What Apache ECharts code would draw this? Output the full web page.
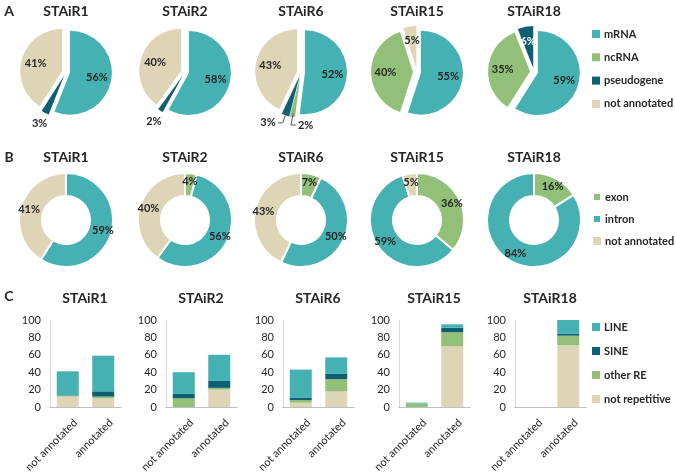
<!DOCTYPE html>
<html>
<head>
<meta charset="utf-8">
<script src="https://cdn.jsdelivr.net/npm/echarts@6/dist/echarts.min.js"></script>
<style>
html,body{margin:0;padding:0;background:#fff;}
#chart{width:675px;height:475px;}
</style>
</head>
<body>
<div id="chart"></div>
<script>
// ---------- DATA ----------
const samples = ['STAiR1', 'STAiR2', 'STAiR6', 'STAiR15', 'STAiR18'];

// Panel A: transcript type (%)
const typeNames = ['mRNA', 'ncRNA', 'pseudogene', 'not annotated'];
const mRNA = [56, 58, 52, 55, 59];
const ncRNA = [0, 0, 2, 40, 35];
const pseudogene = [3, 2, 3, 0, 6];
const notAnnotatedA = [41, 40, 43, 5, 0];

// Panel B: genomic region (%)
const regionNames = ['exon', 'intron', 'not annotated'];
const exon = [0, 4, 7, 36, 16];
const intron = [59, 56, 50, 59, 84];
const notAnnotatedB = [41, 40, 43, 5, 0];

// Panel C: repeat content, per sample [not annotated, annotated]
const barCategories = ['not annotated', 'annotated'];
const repeatNames = ['LINE', 'SINE', 'other RE', 'not repetitive'];
const yTicks = [0, 20, 40, 60, 80, 100];
const notRepetitive = [[12, 10], [0, 20], [5, 18], [0, 70], [0, 71]];
const otherRE = [[1, 2], [10, 2], [3, 14], [4, 16], [0, 11]];
const SINE = [[0.5, 6], [5, 8], [3, 6], [0, 5], [0, 2]];
const LINE = [[27.5, 41], [25, 30], [32, 19], [1, 4], [0, 16]];

// ---------- STYLE / LAYOUT ----------
const FONT = 'Lato, "Open Sans", sans-serif';
const TXT = '#262626';
const C_TEAL = '#46B1B2', C_GREEN = '#92C078', C_DARK = '#0F5F73', C_BEIGE = '#DED4B6';
const colA = [C_TEAL, C_GREEN, C_DARK, C_BEIGE];
const colB = [C_GREEN, C_TEAL, C_BEIGE];
const colC = { 'LINE': C_TEAL, 'SINE': C_DARK, 'other RE': C_GREEN, 'not repetitive': C_BEIGE };
const cx = [66, 185, 301, 417, 534];
const rowAy = 72, rowBy = 220;
const showLeader = [false, false, true, false, false];
const mirrorRightName = 'ncRNA';
const gridLeft = [50, 166, 283, 399, 515];

const aVals = [mRNA, ncRNA, pseudogene, notAnnotatedA];
const bVals = [exon, intron, notAnnotatedB];
const cVals = { 'LINE': LINE, 'SINE': SINE, 'other RE': otherRE, 'not repetitive': notRepetitive };

const series = [];
const graphic = [];
const grids = [], xAxes = [], yAxes = [];

function addText(text, x, y, size) {
  graphic.push({
    type: 'text', x: x, y: y, silent: true,
    style: { text: text, fill: TXT, font: 'bold ' + size + 'px ' + FONT, align: 'center', verticalAlign: 'middle' }
  });
}
addText('A', 9, 11, 14);
addText('B', 9, 157, 14);
addText('C', 9, 296, 14);

function makeLabelLayout(leader, names) {
  return function (params) {
    const pts = params.labelLinePoints;
    if (!pts || pts.length < 3) return {};
    const p0 = pts[0], p1 = pts[1];
    const nm = names[params.dataIndex];
    if (!leader) {
      return { x: p1[0], y: p1[1], align: 'center', verticalAlign: 'middle' };
    }
    if (nm === mirrorRightName) {
      const p2 = [p1[0] + 5, p1[1]];
      return { x: p2[0] + 2, y: p2[1], align: 'left', verticalAlign: 'middle', labelLinePoints: [p0, p1, p2] };
    }
    const p2 = [p1[0] - 5, p1[1]];
    return { x: p2[0] - 2, y: p2[1], align: 'right', verticalAlign: 'middle', labelLinePoints: [p0, p1, p2] };
  };
}

samples.forEach((s, i) => {
  addText(s, cx[i], 11, 14);
  addText(s, cx[i], 157, 14);
  addText(s, gridLeft[i] + 35, 298, 14);

  // ---- Panel A pie (exploded) ----
  const dataA = [], labA = [], namesA = [];
  typeNames.forEach((n, k) => {
    const v = aVals[k][i];
    if (v <= 0) return;
    dataA.push({ name: n, value: v, selected: true, itemStyle: { color: colA[k] }, select: { itemStyle: { color: colA[k] } } });
    const small = v < 5;
    namesA.push(n);
    labA.push({
      name: n, value: v,
      label: {
        show: true,
        position: small ? 'outside' : 'inside',
        color: (!small && n === 'pseudogene') ? '#ffffff' : TXT
      },
      labelLine: { show: small && showLeader[i] }
    });
  });
  series.push({
    type: 'pie', center: [cx[i], rowAy], radius: [0, 42], startAngle: 90, clockwise: true,
    selectedMode: 'multiple', selectedOffset: 4, animation: false,
    label: { show: false }, labelLine: { show: false },
    emphasis: { disabled: true },
    itemStyle: { borderWidth: 0 },
    data: dataA
  });
  series.push({
    type: 'pie', center: [cx[i], rowAy], radius: [15, 42], startAngle: 90, clockwise: true,
    silent: true, animation: false, avoidLabelOverlap: false, z: 5,
    itemStyle: { color: 'rgba(0,0,0,0)', borderWidth: 0 },
    emphasis: { disabled: true },
    label: { formatter: '{c}%', fontFamily: FONT, fontSize: 11, fontWeight: 'bold', distanceToLabelLine: 2 },
    labelLine: { length: showLeader[i] ? 12 : 16, length2: showLeader[i] ? 5 : 0, lineStyle: { color: '#595959', width: 1 } },
    labelLayout: makeLabelLayout(showLeader[i], namesA),
    data: labA
  });

  // ---- Panel B donut ----
  const dataB = [];
  regionNames.forEach((n, k) => {
    const v = bVals[k][i];
    if (v <= 0) return;
    dataB.push({ name: n, value: v, itemStyle: { color: colB[k] } });
  });
  series.push({
    type: 'pie', center: [cx[i], rowBy], radius: [24, 47], startAngle: 90, clockwise: true,
    animation: false, emphasis: { disabled: true },
    itemStyle: { borderColor: '#ffffff', borderWidth: 2 },
    label: { show: true, position: 'inside', formatter: '{c}%', fontFamily: FONT, fontSize: 11, fontWeight: 'bold', color: TXT },
    labelLine: { show: false },
    data: dataB
  });

  // ---- Panel C stacked bars ----
  grids.push({ left: gridLeft[i], top: 320, width: 71, height: 87, outerBoundsMode: 'none', containLabel: false });
  xAxes.push({
    type: 'category', gridIndex: i, data: barCategories,
    axisLine: { show: true, lineStyle: { color: '#BFBFBF', width: 1 } },
    axisTick: { show: false },
    axisLabel: { interval: 0, rotate: 45, margin: 6, verticalAlign: 'top', lineHeight: 22, fontFamily: FONT, fontSize: 11, color: TXT },
    splitLine: { show: false }
  });
  yAxes.push({
    type: 'value', gridIndex: i, min: yTicks[0], max: yTicks[yTicks.length - 1], interval: yTicks[1] - yTicks[0],
    axisLine: { show: true, lineStyle: { color: '#D9D9D9', width: 1 } },
    axisTick: { show: false },
    axisLabel: { margin: 9, fontFamily: FONT, fontSize: 11, color: TXT },
    splitLine: { show: false }
  });
  ['not repetitive', 'other RE', 'SINE', 'LINE'].forEach(n => {
    series.push({
      type: 'bar', name: n, xAxisIndex: i, yAxisIndex: i, stack: 'st' + i,
      barWidth: 22, animation: false, emphasis: { disabled: true },
      itemStyle: { color: colC[n] },
      data: cVals[n][i]
    });
  });
});

const legendBase = {
  orient: 'vertical', left: 592, icon: 'rect', itemWidth: 8, itemHeight: 8,
  padding: 0, selectedMode: false,
  textStyle: { fontFamily: FONT, fontSize: 11, fontWeight: 'bold', color: TXT, lineHeight: 12, padding: [0, 0, 0, -1] }
};

const option = {
  animation: false,
  backgroundColor: '#ffffff',
  graphic: graphic,
  legend: [
    Object.assign({}, legendBase, { top: 28, itemGap: 11.3, data: typeNames }),
    Object.assign({}, legendBase, { top: 191, itemGap: 10, data: regionNames }),
    Object.assign({}, legendBase, { top: 321, itemGap: 12, data: repeatNames })
  ],
  grid: grids,
  xAxis: xAxes,
  yAxis: yAxes,
  series: series
};

const chart = echarts.init(document.getElementById('chart'), null, { renderer: 'canvas' });
chart.setOption(option);
</script>
</body>
</html>
